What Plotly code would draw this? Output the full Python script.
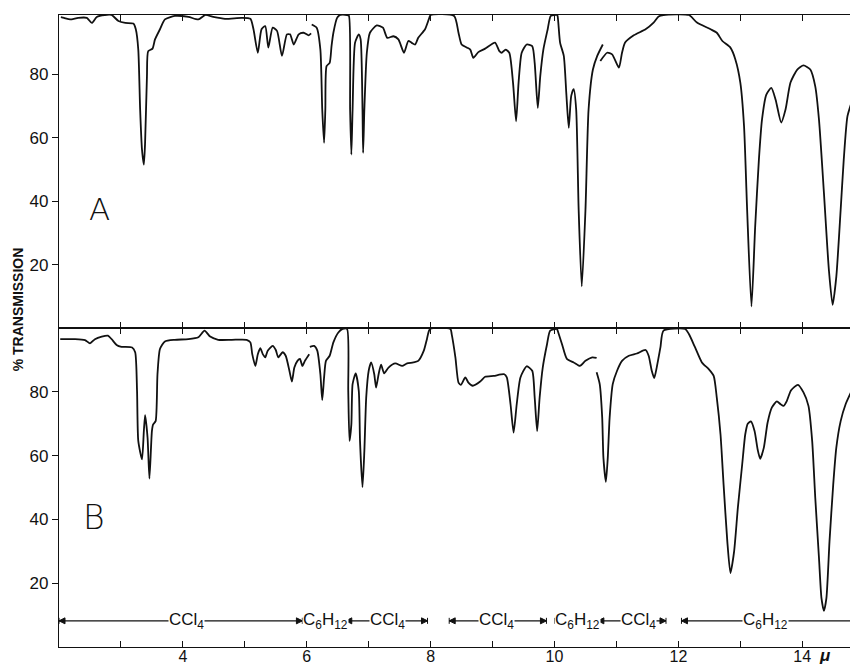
import plotly.graph_objects as go

# ---------------- data (wavelength in microns, % transmission) ----------------
# Spectrum A (None separates the separately recorded pieces of the trace)
a_wavelength = [
    2.03, 2.08, 2.18, 2.31, 2.45, 2.53, 2.61, 2.74, 2.85, 2.96, 3.07, 3.20, 3.24, 3.28, 3.31,
    3.34, 3.37, 3.39, 3.42, 3.44, 3.51, 3.55, 3.63, 3.71, 3.87, 4.09, 4.25, 4.36, 4.49, 4.68,
    4.95, 5.09, 5.14, 5.21, 5.27, 5.33, 5.38, 5.45, 5.52, 5.60, 5.68, 5.73, 5.79, 5.87, 5.95,
    6.03, 6.07,
    None,
    6.08, 6.16, 6.22, 6.25, 6.28, 6.30, 6.32, 6.37, 6.40, 6.43, 6.49, 6.54, 6.65, 6.68, 6.70,
    6.72, 6.74, 6.78, 6.84, 6.87, 6.90, 6.91, 6.93, 6.97, 7.02, 7.13, 7.23, 7.30, 7.40, 7.48,
    7.57, 7.64, 7.69, 7.75, 7.80, 7.91, 7.97, 8.00, 8.38, 8.45, 8.50, 8.59, 8.64, 8.69, 8.77,
    8.88, 9.04, 9.11, 9.15, 9.21, 9.27, 9.33, 9.38, 9.42, 9.47, 9.55, 9.64, 9.68, 9.73, 9.77,
    9.82, 9.89, 9.94, 10.04, 10.05, 10.09, 10.15, 10.19, 10.23, 10.27, 10.31, 10.35, 10.39,
    10.44, 10.50, 10.55, 10.62, 10.69, 10.78,
    None,
    10.74, 10.85, 10.93, 11.04, 11.09, 11.14, 11.28, 11.47, 11.60, 11.68, 11.76, 12.17, 12.30,
    12.52, 12.62, 12.71, 12.84, 12.92, 13.00, 13.06, 13.11, 13.18, 13.24, 13.30, 13.35, 13.42,
    13.50, 13.57, 13.66, 13.73, 13.81, 13.92, 14.02, 14.13, 14.21, 14.27, 14.35, 14.43, 14.49,
    14.55, 14.62, 14.67, 14.73, 14.81, 14.89,
]
a_transmission = [
    98.0, 97.8, 97.3, 97.8, 97.8, 96.2, 98.1, 98.7, 98.7, 96.8, 96.2, 96.0, 94.2, 87.8, 68.9,
    56.2, 51.5, 58.4, 79.4, 87.3, 88.1, 91.0, 94.2, 97.3, 98.4, 98.1, 97.3, 98.7, 98.1, 97.5,
    97.8, 97.5, 94.2, 86.8, 94.2, 95.2, 88.4, 94.7, 93.7, 85.8, 92.6, 92.6, 89.4, 92.6, 93.1,
    92.3, 92.9,
    None,
    95.7, 94.7, 87.8, 68.9, 58.4, 68.9, 82.6, 83.6, 88.9, 93.1, 97.8, 98.7, 98.7, 98.5, 68.9,
    54.7, 68.9, 90.0, 92.6, 91.0, 68.9, 55.2, 68.9, 86.8, 93.1, 95.4, 94.7, 91.5, 92.0, 91.0,
    86.8, 90.5, 90.0, 89.4, 91.5, 94.2, 97.3, 98.7, 98.4, 93.1, 89.4, 88.4, 87.8, 85.2, 87.0,
    88.1, 90.0, 87.3, 86.8, 87.8, 86.8, 77.4, 65.2, 77.4, 86.8, 89.4, 88.9, 83.6, 69.4, 79.4,
    87.8, 94.2, 98.4, 98.7, 98.4, 90.0, 85.8, 74.2, 63.1, 73.2, 75.3, 68.9, 37.3,
    13.1, 37.3, 68.9, 81.5, 85.8, 89.4,
    None,
    84.2, 86.8, 86.3, 82.1, 86.8, 90.0, 92.3, 94.2, 96.3, 98.2, 98.7, 98.7, 96.3,
    94.2, 93.1, 90.5, 88.4, 84.7, 77.4, 63.7, 37.3, 6.8, 32.0, 53.1, 65.7, 73.6,
    75.7, 72.0, 64.8, 68.9, 77.4, 81.5, 82.8, 81.5, 76.2, 65.7, 42.6, 18.3, 7.3,
    16.2, 37.3, 53.1, 66.8, 72.0, 76.2,
]

# Spectrum B
b_wavelength = [
    2.02, 2.26, 2.42, 2.50, 2.58, 2.69, 2.79, 2.85, 2.93, 3.01, 3.18, 3.23, 3.26, 3.28, 3.34,
    3.37, 3.39, 3.43, 3.46, 3.50, 3.52, 3.56, 3.59, 3.63, 3.71, 3.87, 4.09, 4.25, 4.35, 4.44,
    4.57, 4.79, 5.03, 5.09, 5.12, 5.17, 5.21, 5.25, 5.29, 5.33, 5.37, 5.45, 5.50, 5.54, 5.61,
    5.66, 5.72, 5.76, 5.80, 5.85, 5.89, 5.93, 5.97, 6.04,
    None,
    6.05, 6.12, 6.17, 6.22, 6.25, 6.28, 6.31, 6.37, 6.43, 6.51, 6.58, 6.65, 6.67, 6.69, 6.72,
    6.74, 6.79, 6.84, 6.86, 6.90, 6.93, 6.96, 7.00, 7.04, 7.09, 7.12, 7.16, 7.20, 7.25, 7.32,
    7.43, 7.54, 7.62, 7.72, 7.80, 7.89, 7.94, 7.99, 8.32, 8.34, 8.40, 8.45, 8.49, 8.56, 8.61,
    8.68, 8.80, 8.88, 9.02, 9.19, 9.23, 9.29, 9.34, 9.39, 9.45, 9.55, 9.64, 9.68, 9.72, 9.76,
    9.81, 9.88, 9.93, 10.04, 10.05, 10.12, 10.20, 10.31, 10.41, 10.50, 10.61, 10.68,
    None,
    10.68, 10.73, 10.77, 10.79, 10.83, 10.86, 10.89, 10.94, 11.01, 11.09, 11.20, 11.33, 11.47,
    11.52, 11.57, 11.61, 11.65, 11.71, 11.76, 12.11, 12.17, 12.27, 12.38, 12.49, 12.57, 12.62,
    12.68, 12.73, 12.79, 12.84, 12.90, 12.96, 13.03, 13.08, 13.12, 13.17, 13.23, 13.28, 13.32,
    13.38, 13.44, 13.51, 13.59, 13.65, 13.70, 13.75, 13.82, 13.93, 14.02, 14.10, 14.16, 14.21,
    14.27, 14.31, 14.35, 14.39, 14.44, 14.50, 14.55, 14.62, 14.70, 14.81, 14.90,
]
b_transmission = [
    96.5, 96.5, 96.2, 95.2, 96.5, 97.3, 97.6, 96.5, 94.7, 94.1, 93.9, 92.4, 80.3, 64.6, 58.8,
    67.7, 72.7, 65.6, 52.8, 67.7, 69.8, 70.8, 85.5, 93.4, 95.8, 96.3, 96.5, 97.1, 99.2, 97.3,
    96.3, 96.3, 96.3, 95.5, 91.8, 88.1, 91.8, 93.7, 91.8, 90.8, 92.9, 94.4, 93.1, 90.8, 92.4,
    91.3, 86.6, 83.2, 87.6, 89.7, 90.3, 88.1, 89.7, 91.8,
    None,
    94.1, 94.4, 92.9, 85.5, 77.4, 84.5, 89.7, 91.3, 95.5, 98.6, 99.7, 99.7, 80.3, 64.6, 69.8,
    82.4, 85.8, 80.3, 64.6, 50.1, 61.4, 78.2, 86.6, 89.2, 85.5, 81.3, 85.5, 88.5, 85.8, 87.6,
    88.9, 88.1, 88.9, 89.2, 89.7, 92.9, 96.5, 99.7, 99.7, 98.1, 90.8, 82.9, 82.2, 84.5, 82.9,
    81.9, 83.2, 84.7, 85.0, 85.5, 84.5, 76.1, 67.2, 76.1, 84.5, 88.0, 86.6, 78.2, 67.7, 78.2,
    87.6, 95.0, 99.2, 99.7, 99.2, 95.0, 90.3, 89.2, 88.1, 89.7, 90.8, 90.6,
    None,
    86.1, 82.4, 71.9, 59.3, 51.8, 59.3, 71.9, 82.4, 86.6, 89.7, 91.3, 92.0, 93.1,
    91.3, 86.6, 84.3, 87.6, 93.9, 99.2, 99.7, 98.1, 93.9, 89.2, 87.1, 85.0, 78.2,
    66.7, 50.9, 33.1, 23.2, 30.0, 43.6, 57.2, 66.7, 70.0, 70.7, 67.7, 61.9, 59.0,
    62.5, 70.3, 75.1, 77.0, 76.1, 75.6, 77.1, 80.5, 82.2, 79.8, 75.6, 64.6, 46.8,
    27.9, 15.3, 11.3, 15.3, 33.1, 50.9, 62.5, 70.8, 76.1, 80.8, 84.5,
]

# Solvent ranges drawn under spectrum B
solvent_start = [2.0, 5.93, 6.63, 8.30, 10.00, 10.70, 12.05]
solvent_end = [5.93, 6.55, 7.95, 9.87, 10.70, 11.80, 14.90]
solvent_label_x = [4.06, 6.30, 7.30, 9.07, 10.37, 11.35, 13.40]
solvent_label = ["CCl<sub>4</sub>", "C<sub>6</sub>H<sub>12</sub>", "CCl<sub>4</sub>",
                 "CCl<sub>4</sub>", "C<sub>6</sub>H<sub>12</sub>", "CCl<sub>4</sub>",
                 "C<sub>6</sub>H<sub>12</sub>"]
solvent_level = 8.2

x_major_ticks = [4, 6, 8, 10, 12, 14]
x_major_labels = ["4", "6", "8", "10", "12", "14"]
x_minor_ticks = [3, 5, 7, 9, 11, 13]
y_tick_values = [20, 40, 60, 80]
y_tick_labels = ["20", "40", "60", "80"]

# ---------------- figure ----------------
FONT = "Liberation Sans, Arial, sans-serif"
fig = go.Figure()

line_style = dict(color="#111111", width=1.8, shape="spline", smoothing=0.6)
fig.add_trace(go.Scatter(x=a_wavelength, y=a_transmission, mode="lines", line=line_style,
                         xaxis="x", yaxis="y", showlegend=False, hoverinfo="skip"))
fig.add_trace(go.Scatter(x=b_wavelength, y=b_transmission, mode="lines", line=line_style,
                         xaxis="x2", yaxis="y2", showlegend=False, hoverinfo="skip"))

for s, e in zip(solvent_start, solvent_end):
    fig.add_trace(go.Scatter(
        x=[s, e], y=[solvent_level, solvent_level], mode="lines+markers",
        line=dict(color="#111111", width=1.3),
        marker=dict(symbol=["arrow-bar-left", "arrow-bar-right"], size=6, color="#111111",
                    line=dict(color="#111111", width=1)),
        xaxis="x2", yaxis="y2", showlegend=False, hoverinfo="skip", cliponaxis=False))

annotations = []
for lx, lt in zip(solvent_label_x, solvent_label):
    annotations.append(dict(x=lx, y=solvent_level, xref="x2", yref="y2", text=lt,
                            showarrow=False, bgcolor="white", borderpad=0,
                            font=dict(family="Liberation Sans Narrow, " + FONT, size=17,
                                      color="#111111")))

annotations += [
    dict(x=2.65, y=37.5, xref="x", yref="y", text="A", showarrow=False,
         font=dict(family="DejaVu Sans, sans-serif", size=31, color="#111111", weight=200)),
    dict(x=2.57, y=40.5, xref="x2", yref="y2", text="B", showarrow=False,
         font=dict(family="DejaVu Sans, sans-serif", size=33, color="#111111", weight=200)),
    dict(x=-0.052, y=0.535, xref="paper", yref="paper", xanchor="center", yanchor="middle",
         text="% TRANSMISSION", textangle=-90, showarrow=False,
         font=dict(family=FONT, size=14, color="#111111", weight="bold")),
    dict(x=14.37, y=0, xref="x2", yref="paper", xanchor="center", yanchor="top", yshift=3,
         text="<i>μ</i>", showarrow=False,
         font=dict(family=FONT, size=17, color="#111111", weight="bold")),
]

# the page body adds an 8px offset, so the figure is drawn 8px smaller than the window
split = 319 / 632.0
xaxis_common = dict(range=[2, 14.9], tickmode="array", tickvals=x_major_ticks,
                    ticktext=x_major_labels,
                    ticks="inside", ticklen=6, tickwidth=1.3, tickcolor="#111111",
                    minor=dict(tickmode="array", tickvals=x_minor_ticks, ticks="inside",
                               ticklen=6, tickwidth=1.3, tickcolor="#111111", showgrid=False),
                    showline=True, linecolor="#111111", linewidth=1.3, mirror="ticks",
                    showgrid=False, zeroline=False)
yaxis_common = dict(tickmode="array", tickvals=y_tick_values, ticktext=y_tick_labels,
                    ticks="outside", ticklen=6, tickwidth=1.3, tickcolor="#111111",
                    showline=True, linecolor="#111111", linewidth=1.4, mirror=True,
                    showgrid=False, zeroline=False,
                    tickfont=dict(family=FONT, size=17, color="#111111"))

fig.update_layout(
    width=850, height=658,
    margin=dict(l=51, r=0, t=7, b=19, autoexpand=False),
    paper_bgcolor="white", plot_bgcolor="white",
    xaxis=dict(**xaxis_common, anchor="y", showticklabels=False),
    xaxis2=dict(**xaxis_common, anchor="y2", matches="x", ticklabelstandoff=-5,
                tickfont=dict(family=FONT, size=16, color="#111111")),
    yaxis=dict(**yaxis_common, domain=[split, 1], range=[0, 98.7], anchor="x"),
    yaxis2=dict(**yaxis_common, domain=[0, split], range=[0, 100], anchor="x2"),
    annotations=annotations,
)

fig.write_html("out.html")
